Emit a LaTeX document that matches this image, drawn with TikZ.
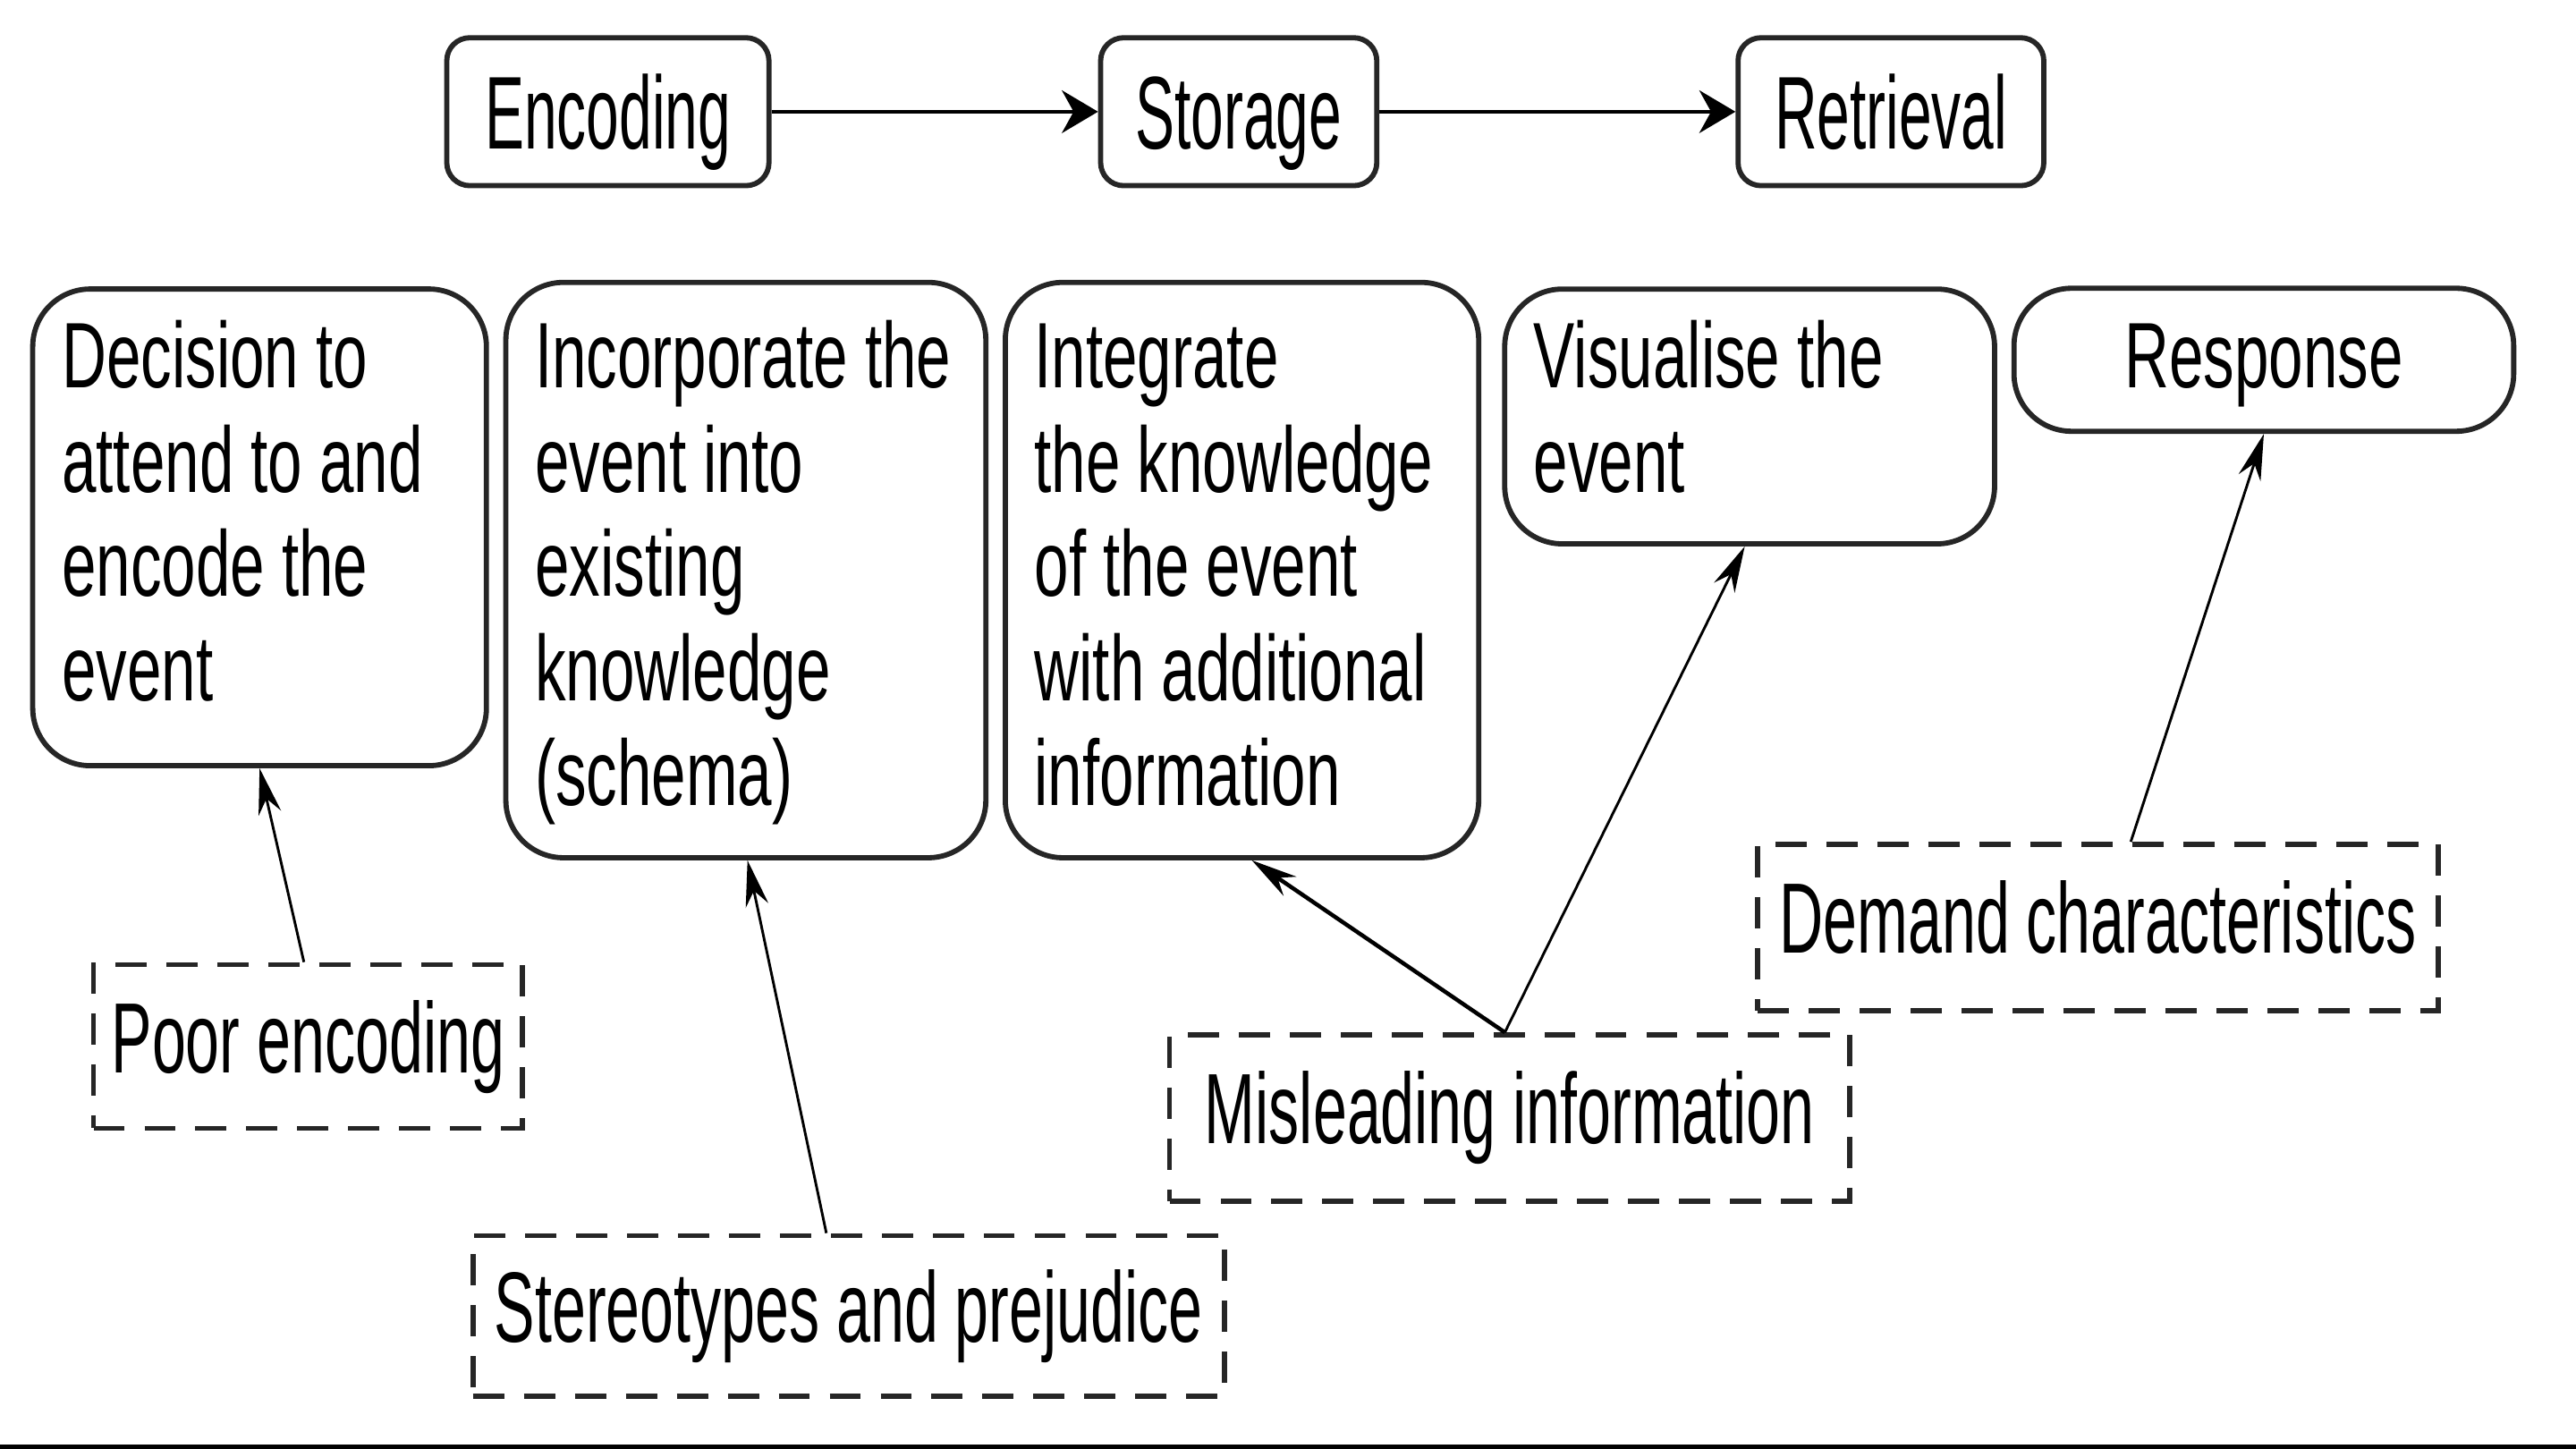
\documentclass[tikz,border=0pt]{standalone}
\usepackage{fontspec}
\setmainfont{Liberation Sans}[FakeStretch=0.665]
\newfontfamily\dfont{Liberation Sans}[FakeStretch=0.61]
\newfontfamily\tfont{Liberation Sans}[FakeStretch=0.57]
\usetikzlibrary{arrows.meta}
\begin{document}
\begin{tikzpicture}[x=0.01cm,y=-0.01cm]
\tikzset{
 topbox/.style={draw=black!85, line width=0.9pt, rounded corners=0.14cm, minimum height=0.9cm, inner sep=0pt, text height=12.9pt, text depth=0pt, font=\tfont\fontsize{17.9}{20}\selectfont},
 stagebox/.style={draw=black!85, line width=0.9pt, rounded corners=0.35cm, inner sep=0pt},
 stagetext/.style={anchor=base west, inner sep=0pt, text width=3cm, align=flush left, font=\fontsize{16.1}{18.07}\selectfont},
 resptext/.style={anchor=base, inner sep=0pt, font=\fontsize{16.1}{18.07}\selectfont},
 factor/.style={draw=black!85, line width=0.9pt, dash pattern=on 0.19cm off 0.12cm, inner sep=0pt, text height=12.6pt, text depth=3.6pt, font=\dfont\fontsize{17.3}{20}\selectfont},
 flow/.style={-{Stealth[length=0.22cm,width=0.26cm]}, line width=0.6pt},
 infl/.style={-{Stealth[length=0.28cm,width=0.14cm]}, line width=0.45pt},
}
\path[use as bounding box] (0,0) rectangle (1568,882);
\fill[black] (0,879.5) rectangle (1568,882);

% top row
\node[topbox, minimum width=1.96cm] (enc) at (370,68) {Encoding};
\node[topbox, minimum width=1.68cm] (sto) at (754,68) {Storage};
\node[topbox, minimum width=1.86cm] (ret) at (1151,68) {Retrieval};
\draw[flow] (enc.east) -- (sto.west);
\draw[flow] (sto.east) -- (ret.west);

% stage boxes
\node[stagebox, minimum width=2.76cm, minimum height=2.90cm] (b1) at (158,321) {};
\node[stagebox, minimum width=2.92cm, minimum height=3.50cm] (b2) at (454,347) {};
\node[stagebox, minimum width=2.88cm, minimum height=3.50cm] (b3) at (756,347) {};
\node[stagebox, minimum width=2.98cm, minimum height=1.55cm] (b4) at (1065,253.5) {};
\node[stagebox, minimum width=3.04cm, minimum height=0.87cm] (b5) at (1378,219) {};

\node[stagetext] (t1) at (37,236) {Decision to\\attend to and\\encode the\\event};
\node[stagetext] (t2) at (325,236) {Incorporate the\\event into\\existing\\knowledge\\(schema)};
\node[stagetext] (t3) at (629,236) {Integrate\\the knowledge\\of the event\\with additional\\information};
\node[stagetext] (t4) at (933,236) {Visualise the\\event};
\node[resptext] (t5) at (1378,236) {Response};

% factors
\node[factor, minimum width=2.61cm, minimum height=0.995cm] (pe) at (187.5,637) {Poor encoding};
\node[factor, minimum width=4.57cm, minimum height=0.976cm] (st) at (516.5,801) {Stereotypes and prejudice};
\node[factor, minimum width=4.14cm, minimum height=1.01cm] (mi) at (919,680.5) {Misleading information};
\node[factor, minimum width=4.14cm, minimum height=1.01cm] (dc) at (1277,564.5) {Demand characteristics};

% influences
\draw[infl] ([xshift=-0.025cm]pe.north) -- (b1.south);
\draw[infl] ([xshift=-0.135cm]st.north) -- ([xshift=0.01cm]b2.south);
\draw[infl, line width=0.7pt] ([xshift=-0.03cm]mi.north) -- ([xshift=0.06cm]b3.south);
\draw[infl] ([xshift=-0.03cm]mi.north) -- ([xshift=-0.03cm]b4.south);
\draw[infl] ([xshift=0.2cm]dc.north) -- (b5.south);
\end{tikzpicture}
\end{document}
